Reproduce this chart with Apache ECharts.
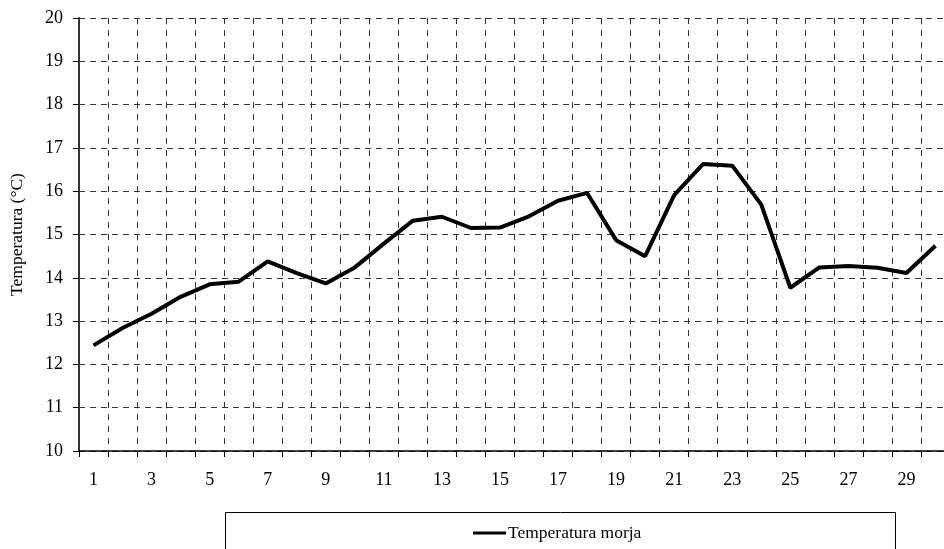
<!DOCTYPE html>
<html>
<head>
<meta charset="utf-8">
<script src="https://cdn.jsdelivr.net/npm/echarts@6/dist/echarts.min.js"></script>
<style>
html,body{margin:0;padding:0;background:#fff;overflow:hidden;width:944px;height:549px;}
#chart{width:960px;height:549px;}
</style>
</head>
<body>
<div id="chart"></div>
<script>
var days = [];
for (var d = 1; d <= 30; d++) days.push(String(d));
var seriesName = 'Temperatura morja';
var temps = [12.44, 12.84, 13.17, 13.56, 13.85, 13.91, 14.38, 14.11, 13.87, 14.24,
             14.79, 15.32, 15.41, 15.15, 15.16, 15.42, 15.78, 15.96, 14.87, 14.50,
             15.91, 16.63, 16.59, 15.69, 13.77, 14.24, 14.27, 14.23, 14.11, 14.74];
var yName = 'Temperatura (°C)';
var yMin = 10, yMax = 20, yStep = 1;

var font = 'Liberation Serif, Times New Roman, serif';
var chart = echarts.init(document.getElementById('chart'));
chart.setOption({
  animation: false,
  backgroundColor: '#fff',
  textStyle: { fontFamily: font },
  grid: { left: 78, right: 10, top: 18, bottom: 98, containLabel: false },
  graphic: [{
    type: 'rect',
    shape: { x: 225.5, y: 512.5, width: 670, height: 60 },
    style: { fill: 'none', stroke: '#000', lineWidth: 1 },
    silent: true
  }],
  legend: {
    data: [seriesName],
    left: 473,
    top: 524,
    padding: 0,
    itemWidth: 33,
    itemHeight: 18,
    itemGap: 2,
    textStyle: { fontFamily: font, fontSize: 17.5, color: '#000', padding: [0, 0, 0, -3] },
    icon: 'path://M0,0 L33,0 L33,3 L0,3 Z'
  },
  xAxis: {
    type: 'category',
    data: days,
    boundaryGap: true,
    axisLine: { lineStyle: { color: '#000', width: 1.5 } },
    axisTick: { show: true, interval: 0, length: 6, lineStyle: { color: '#000' } },
    axisLabel: { interval: 1, color: '#000', fontSize: 18, fontFamily: font, margin: 20 },
    splitLine: { show: true, interval: 0, lineStyle: { color: '#333', type: [6, 6], width: 1 } }
  },
  yAxis: {
    type: 'value',
    min: yMin, max: yMax, interval: yStep,
    name: yName,
    nameLocation: 'middle',
    nameGap: 53,
    nameTextStyle: { fontFamily: font, fontSize: 17.5, color: '#000' },
    axisLine: { show: true, lineStyle: { color: '#333', width: 2 } },
    axisTick: { show: true, length: 6, lineStyle: { color: '#000' } },
    axisLabel: { color: '#000', fontSize: 18, fontFamily: font, margin: 16 },
    splitLine: { show: true, lineStyle: { color: '#333', type: [6, 5], width: 1 } }
  },
  series: [{
    name: seriesName,
    type: 'line',
    data: temps,
    symbol: 'none',
    lineStyle: { color: '#000', width: 4 },
    itemStyle: { color: '#000' }
  }]
});
</script>
</body>
</html>
